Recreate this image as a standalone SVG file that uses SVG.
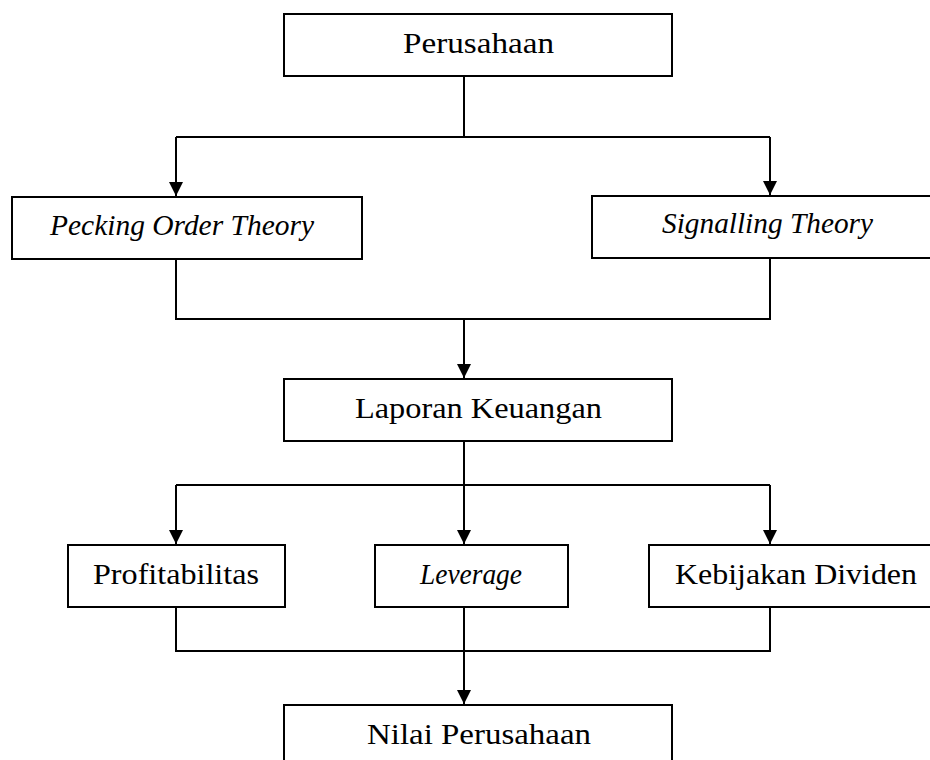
<svg xmlns="http://www.w3.org/2000/svg" width="930" height="760" viewBox="0 0 930 760">
<style>
.box{fill:#fff;stroke:#000;stroke-width:2}
.lbl{font-family:"Liberation Serif","DejaVu Serif",serif;font-size:30px;fill:#000}
.it{font-style:italic}
.con{fill:none;stroke:#000;stroke-width:2}
</style>
<defs>
<marker id="arr" markerUnits="userSpaceOnUse" markerWidth="14" markerHeight="14" refX="14" refY="7" orient="auto" viewBox="0 0 14 14">
<path d="M0,0 L14,7 L0,14 Z" fill="#000"/>
</marker>
</defs>
<rect width="930" height="760" fill="#fff"/>
<g id="connectors">
<path class="con" d="M464,76 V137 M176,137 H770"/>
<path class="con" d="M176,137 V196" marker-end="url(#arr)"/>
<path class="con" d="M770,137 V195" marker-end="url(#arr)"/>
<path class="con" d="M176,259 V319 H770 V258"/>
<path class="con" d="M464,319 V378" marker-end="url(#arr)"/>
<path class="con" d="M464,441 V485 M176,485 H770"/>
<path class="con" d="M176,485 V544" marker-end="url(#arr)"/>
<path class="con" d="M464,485 V544" marker-end="url(#arr)"/>
<path class="con" d="M770,485 V544" marker-end="url(#arr)"/>
<path class="con" d="M176,607 V651 H770 V607"/>
<path class="con" d="M464,607 V704" marker-end="url(#arr)"/>
</g>
<g id="perusahaan">
<rect class="box" x="284" y="14" width="388" height="62"/>
<text class="lbl" x="403" y="53" textLength="151" lengthAdjust="spacingAndGlyphs">Perusahaan</text>
</g>
<g id="pecking">
<rect class="box" x="12" y="197" width="350" height="62"/>
<text class="lbl it" x="50" y="235" textLength="264" lengthAdjust="spacingAndGlyphs">Pecking Order Theory</text>
</g>
<g id="signalling">
<rect class="box" x="592" y="196" width="350" height="62"/>
<text class="lbl it" x="662" y="233" textLength="211" lengthAdjust="spacingAndGlyphs">Signalling Theory</text>
</g>
<g id="laporan">
<rect class="box" x="284" y="379" width="388" height="62"/>
<text class="lbl" x="355" y="418" textLength="247" lengthAdjust="spacingAndGlyphs">Laporan Keuangan</text>
</g>
<g id="profitabilitas">
<rect class="box" x="68" y="545" width="217" height="62"/>
<text class="lbl" x="93" y="584" textLength="166" lengthAdjust="spacingAndGlyphs">Profitabilitas</text>
</g>
<g id="leverage">
<rect class="box" x="375" y="545" width="193" height="62"/>
<text class="lbl it" x="420" y="584" textLength="102" lengthAdjust="spacingAndGlyphs">Leverage</text>
</g>
<g id="kebijakan">
<rect class="box" x="649" y="545" width="300" height="62"/>
<text class="lbl" x="675" y="584" textLength="242" lengthAdjust="spacingAndGlyphs">Kebijakan Dividen</text>
</g>
<g id="nilai">
<rect class="box" x="284" y="705" width="388" height="62"/>
<text class="lbl" x="367" y="744" textLength="224" lengthAdjust="spacingAndGlyphs">Nilai Perusahaan</text>
</g>
</svg>
